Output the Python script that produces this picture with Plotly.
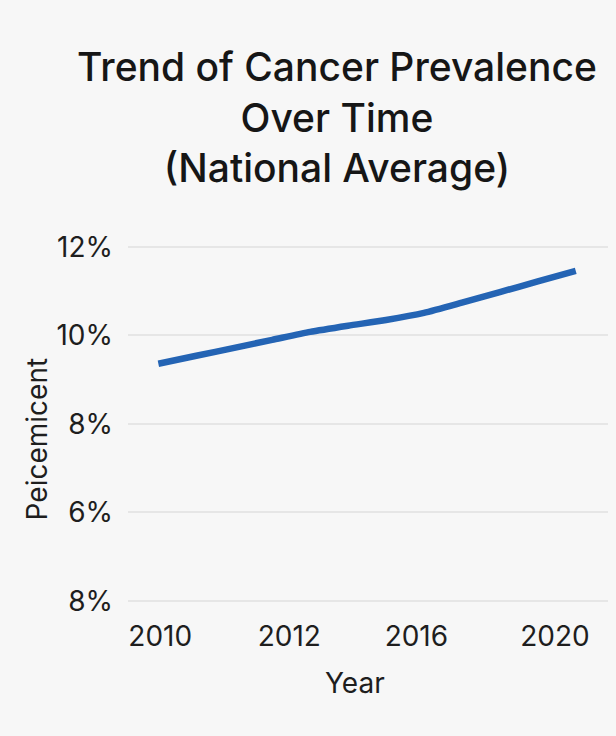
import plotly.graph_objects as go

# Annual national average prevalence (%)
years = [2010, 2011, 2012, 2013, 2014, 2015, 2016, 2017, 2018, 2019, 2020, 2021]
prevalence = [9.36, 9.54, 9.72, 9.90, 10.08, 10.22, 10.35, 10.51, 10.74, 10.98, 11.22, 11.46]

# Axis tick positions and their labels
x_tick_vals = [2010.05, 2013.45, 2016.8, 2020.45]
x_tick_text = ["2010", "2012", "2016", "2020"]
y_tick_vals = [4, 6, 8, 10, 12]
y_tick_text = ["8%", "6%", "8%", "10%", "12%"]

FONT = "Inter"
BG = "#f7f7f7"
INK = "#1e1e1e"

fig = go.Figure(
    go.Scatter(
        x=years,
        y=prevalence,
        mode="lines",
        line=dict(color="#2464b4", width=6.5, shape="spline", smoothing=0.6),
        hoverinfo="skip",
    )
)

fig.update_layout(
    width=616,
    height=736,
    paper_bgcolor=BG,
    plot_bgcolor=BG,
    showlegend=False,
    margin=dict(l=128, r=8, t=235, b=124),
    font=dict(family=FONT, color=INK),
    title=dict(
        text="Trend of Cancer Prevalence<br>Over Time<br>(National Average)",
        x=0.547,
        xanchor="center",
        y=0.89,
        yanchor="top",
        font=dict(family=FONT, size=39, color="#161616", weight=500),
    ),
    annotations=[
        dict(
            text="Peicemicent",
            xref="paper", yref="paper",
            x=-0.19, y=0.46,
            xanchor="center", yanchor="middle",
            textangle=-90,
            showarrow=False,
            font=dict(size=28, color=INK),
        ),
        dict(
            text="Year",
            xref="paper", yref="paper",
            x=0.473, y=-0.188,
            xanchor="center", yanchor="middle",
            showarrow=False,
            font=dict(size=28, color=INK),
        ),
    ],
)

fig.update_xaxes(
    range=[2009.2, 2021.85],
    tickvals=x_tick_vals,
    ticktext=x_tick_text,
    showgrid=False,
    zeroline=False,
    showline=False,
    ticks="",
    ticklabelstandoff=5,
    tickfont=dict(size=28, color=INK),
)

fig.update_yaxes(
    range=[3.75, 12.27],
    tickvals=y_tick_vals,
    ticktext=y_tick_text,
    showgrid=True,
    gridcolor="#e6e6e6",
    gridwidth=1.5,
    zeroline=False,
    showline=False,
    ticks="",
    ticklabelstandoff=14,
    tickfont=dict(size=28, color=INK),
)

fig.write_html("out.html")
